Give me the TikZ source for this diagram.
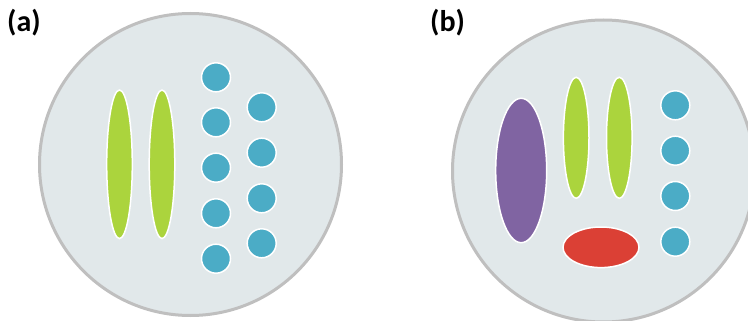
\documentclass[tikz,border=0pt]{standalone}
\usepackage{fontspec}
\setmainfont{Carlito}
\definecolor{dishfill}{HTML}{E1E8EA}
\definecolor{dishedge}{HTML}{BFBFBF}
\definecolor{leafgreen}{HTML}{ABD43D}
\definecolor{dotblue}{HTML}{4BACC6}
\definecolor{plum}{HTML}{8064A2}
\definecolor{tomato}{HTML}{DB4035}
\tikzset{
  dish/.style={fill=dishfill, draw=dishedge, line width=3pt},
  blob/.style={draw=white, line width=1.5pt},
  panellabel/.style={font=\fontsize{30}{32}\selectfont\bfseries, inner sep=0pt, anchor=base west},
}
\begin{document}
\begin{tikzpicture}[x=1pt,y=-1pt]
\useasboundingbox (0,0) rectangle (748,321);
\clip (0,0) rectangle (748,321);
% panel (a)
\node[panellabel] (la) at (7,31.5) {(a)};
\draw[dish] (190.5,164.5) circle (151);
\draw[blob, fill=leafgreen] (119.5,164.3) ellipse (12.8 and 74.3);
\draw[blob, fill=leafgreen] (162,164.3) ellipse (12.8 and 74.3);
\foreach \y in {77.3,122.3,167.7,213.3,258.7}
  \draw[blob, fill=dotblue] (216,\y) circle (14.5);
\foreach \y in {107.3,152.7,198.3,243.3}
  \draw[blob, fill=dotblue] (261.7,\y) circle (14.5);
% panel (b)
\node[panellabel] (lb) at (430,31.5) {(b)};
\draw[dish] (603.5,171) circle (151);
\draw[blob, fill=plum] (521.2,170.5) ellipse (25.5 and 72.2);
\draw[blob, fill=leafgreen] (576.2,137.8) ellipse (12.8 and 60.5);
\draw[blob, fill=leafgreen] (619.3,137.8) ellipse (12.8 and 60.5);
\draw[blob, fill=tomato] (601,247.3) ellipse (38 and 20.3);
\foreach \y in {105.3,150.7,196,241.7}
  \draw[blob, fill=dotblue] (675.3,\y) circle (14.5);
\end{tikzpicture}
\end{document}
